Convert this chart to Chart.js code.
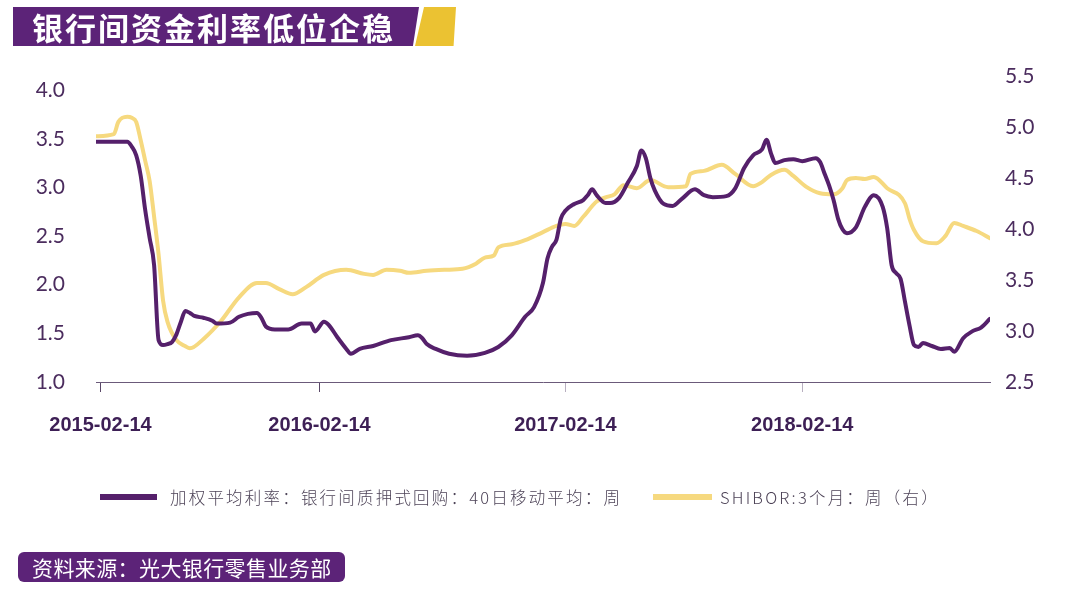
<!DOCTYPE html>
<html>
<head>
<meta charset="utf-8">
<script src="https://cdn.jsdelivr.net/npm/chart.js@4/dist/chart.umd.min.js"></script>
<style>
  body { margin: 0; background: #fff; }
  #wrap { position: relative; width: 1080px; height: 610px; overflow: hidden; }
  #chart { position: absolute; left: 0; top: 0; }
  .title {
    position: absolute; left: 13px; top: 7px; width: 406px; height: 39px;
    background: #5c2378; color: #fff;
    font: 700 31px "Noto Sans CJK SC", sans-serif; line-height: 39px;
    padding-left: 19px; box-sizing: border-box; letter-spacing: 2px;
    clip-path: polygon(0 0, 100% 0, 98.5% 100%, 0 100%);
  }
  .flag {
    position: absolute; left: 415px; top: 7px; width: 41px; height: 39px;
    background: #ebc232;
    clip-path: polygon(22% 0, 100% 0, 94% 100%, 0 100%);
  }
  .legend { position: absolute; top: 485px; height: 24px; font: 300 16.5px "Noto Sans CJK SC", serif; color: #4e4458; letter-spacing: 2.2px; white-space: nowrap; line-height: 24px; }
  .sw { position: absolute; top: 494px; height: 6px; }
  .source {
    position: absolute; left: 18px; top: 552px; width: 327px; height: 30px;
    background: #5c2378; border-radius: 6px; color: #fff;
    font: 400 21px "Noto Sans CJK SC", sans-serif; line-height: 30px;
    padding-left: 14px; box-sizing: border-box; letter-spacing: 0.4px;
  }
</style>
</head>
<body>
<div id="wrap">
  <canvas id="chart" width="1080" height="610"></canvas>
  <div class="title">银行间资金利率低位企稳</div>
  <div class="flag"></div>
  <div class="sw" style="left:100px;width:57px;background:#55206b"></div>
  <div class="legend" style="left:170px">加权平均利率：银行间质押式回购：40日移动平均：周</div>
  <div class="sw" style="left:653px;width:59px;background:#f6d97f"></div>
  <div class="legend" style="left:720px">SHIBOR:3个月：周（右）</div>
  <div class="source">资料来源：光大银行零售业务部</div>
</div>
<script>
const repoWeeks = [-1, 6, 7, 8, 9, 10, 11, 12, 13, 14, 15, 16, 17, 18, 19, 20, 21, 23, 25, 26, 29, 31, 33, 35, 36, 37, 39, 42, 45, 47, 48, 50, 51, 53, 55, 56, 58, 61, 65, 69, 71, 72, 73, 75, 78, 82, 86, 89, 92, 95, 97, 99, 100, 101, 102, 103, 104, 106, 108, 109, 110, 111, 113, 114, 116, 118, 120, 121, 122, 123, 124, 126, 128, 130, 133, 135, 137, 140, 142, 144, 146, 148, 149, 150, 151, 153, 155, 157, 160, 161, 162, 163, 164, 165, 166, 167, 169, 171, 173, 175, 176, 177, 178, 179, 180, 181, 182, 183, 184, 186, 188, 190, 191, 193, 195, 197, 199];
const repoRate = [3.47, 3.47, 3.42, 3.33, 3.12, 2.77, 2.48, 2.2, 1.43, 1.38, 1.39, 1.41, 1.49, 1.62, 1.73, 1.71, 1.68, 1.66, 1.63, 1.6, 1.61, 1.67, 1.7, 1.71, 1.66, 1.57, 1.54, 1.54, 1.6, 1.6, 1.52, 1.62, 1.59, 1.46, 1.34, 1.29, 1.34, 1.37, 1.43, 1.46, 1.48, 1.45, 1.39, 1.34, 1.29, 1.27, 1.3, 1.36, 1.48, 1.67, 1.77, 2.02, 2.27, 2.39, 2.46, 2.68, 2.76, 2.83, 2.87, 2.92, 2.98, 2.92, 2.84, 2.84, 2.89, 3.05, 3.22, 3.38, 3.3, 3.1, 2.97, 2.83, 2.81, 2.88, 2.98, 2.92, 2.9, 2.91, 2.99, 3.2, 3.33, 3.39, 3.49, 3.35, 3.25, 3.28, 3.29, 3.27, 3.3, 3.26, 3.14, 3.02, 2.87, 2.68, 2.57, 2.53, 2.59, 2.8, 2.92, 2.8, 2.58, 2.2, 2.12, 2.06, 1.82, 1.58, 1.38, 1.36, 1.4, 1.37, 1.34, 1.35, 1.31, 1.45, 1.52, 1.56, 1.65];

const shiborWeeks = [-1, 3, 4, 6, 7, 8, 9, 10, 11, 12, 13, 14, 15, 17, 19, 20, 23, 27, 31, 35, 37, 40, 43, 46, 50, 55, 59, 61, 64, 67, 69, 73, 77, 81, 84, 86, 88, 89, 92, 95, 99, 102, 104, 106, 108, 111, 113, 115, 117, 120, 123, 127, 131, 132, 135, 139, 142, 146, 148, 150, 153, 155, 158, 161, 164, 166, 167, 169, 171, 173, 176, 180, 181, 182, 184, 187, 189, 191, 193, 196, 199];
const shibor3m = [4.91, 4.93, 5.05, 5.1, 5.09, 5.05, 4.87, 4.67, 4.47, 4.12, 3.75, 3.3, 3.09, 2.91, 2.85, 2.83, 2.92, 3.1, 3.33, 3.47, 3.47, 3.41, 3.36, 3.43, 3.55, 3.6, 3.56, 3.55, 3.6, 3.59, 3.57, 3.59, 3.6, 3.61, 3.66, 3.72, 3.74, 3.82, 3.85, 3.89, 3.97, 4.03, 4.05, 4.03, 4.12, 4.27, 4.31, 4.34, 4.43, 4.4, 4.48, 4.41, 4.42, 4.54, 4.57, 4.63, 4.54, 4.42, 4.46, 4.53, 4.58, 4.52, 4.41, 4.35, 4.34, 4.4, 4.48, 4.5, 4.49, 4.51, 4.4, 4.25, 4.1, 3.99, 3.88, 3.86, 3.93, 4.06, 4.03, 3.98, 3.91];

const tickWeeks = [0, 49, 104, 157];
const tickLabels = ['2015-02-14', '2016-02-14', '2017-02-14', '2018-02-14'];
const leftTicks = [1.0, 1.5, 2.0, 2.5, 3.0, 3.5, 4.0];
const rightTicks = [2.5, 3.0, 3.5, 4.0, 4.5, 5.0, 5.5];

const toPoints = (xs, ys) => xs.map((x, i) => ({x: x, y: ys[i]}));
const axisFont = {family: 'Lato, "Open Sans", sans-serif', size: 21};
const axisColor = '#4b2c5e';

new Chart(document.getElementById('chart'), {
  type: 'line',
  data: {
    datasets: [{
      label: '加权平均利率：银行间质押式回购：40日移动平均：周',
      data: toPoints(repoWeeks, repoRate),
      borderColor: '#55206b',
      borderWidth: 4,
      yAxisID: 'yL'
    }, {
      label: 'SHIBOR:3个月：周（右）',
      data: toPoints(shiborWeeks, shibor3m),
      borderColor: '#f6d97f',
      borderWidth: 4,
      yAxisID: 'yR'
    }]
  },
  options: {
    responsive: false,
    animation: false,
    devicePixelRatio: 1,
    layout: {padding: {top: 76, left: 0, right: 0, bottom: 0}},
    datasets: {
      line: {pointRadius: 0, cubicInterpolationMode: 'monotone', borderCapStyle: 'round', borderJoinStyle: 'round'}
    },
    plugins: {legend: {display: false}, tooltip: {enabled: false}},
    scales: {
      x: {
        type: 'linear',
        min: -1,
        max: 199,
        afterBuildTicks: (s) => { s.ticks = tickWeeks.map(v => ({value: v})); },
        afterFit: (s) => { s.height = 228; },
        ticks: {
          autoSkip: false,
          maxRotation: 0,
          padding: 21,
          color: '#3d1f55',
          font: {family: '"Liberation Sans Narrow", "Liberation Sans", sans-serif', size: 20, weight: 'bold'},
          callback: (v) => tickLabels[tickWeeks.indexOf(v)]
        },
        grid: {
          drawOnChartArea: false,
          tickLength: 10,
          color: (c) => c.index < 2 ? '#5a4868' : '#b8afc0'
        },
        border: {color: '#6b5a7a', width: 1}
      },
      yL: {
        position: 'left',
        min: 1.0,
        max: 4.145,
        afterBuildTicks: (s) => { s.ticks = leftTicks.map(v => ({value: v})); },
        afterFit: (s) => { s.width = 96; },
        ticks: {padding: 31, color: axisColor, font: axisFont, callback: (v) => v.toFixed(1)},
        grid: {display: false, drawTicks: false},
        border: {display: false}
      },
      yR: {
        position: 'right',
        min: 2.5,
        max: 5.5,
        afterBuildTicks: (s) => { s.ticks = rightTicks.map(v => ({value: v})); },
        afterFit: (s) => { s.width = 90; },
        ticks: {padding: 15, color: axisColor, font: axisFont, callback: (v) => v.toFixed(1)},
        grid: {display: false, drawTicks: false},
        border: {display: false}
      }
    }
  }
});
</script>
</body>
</html>
